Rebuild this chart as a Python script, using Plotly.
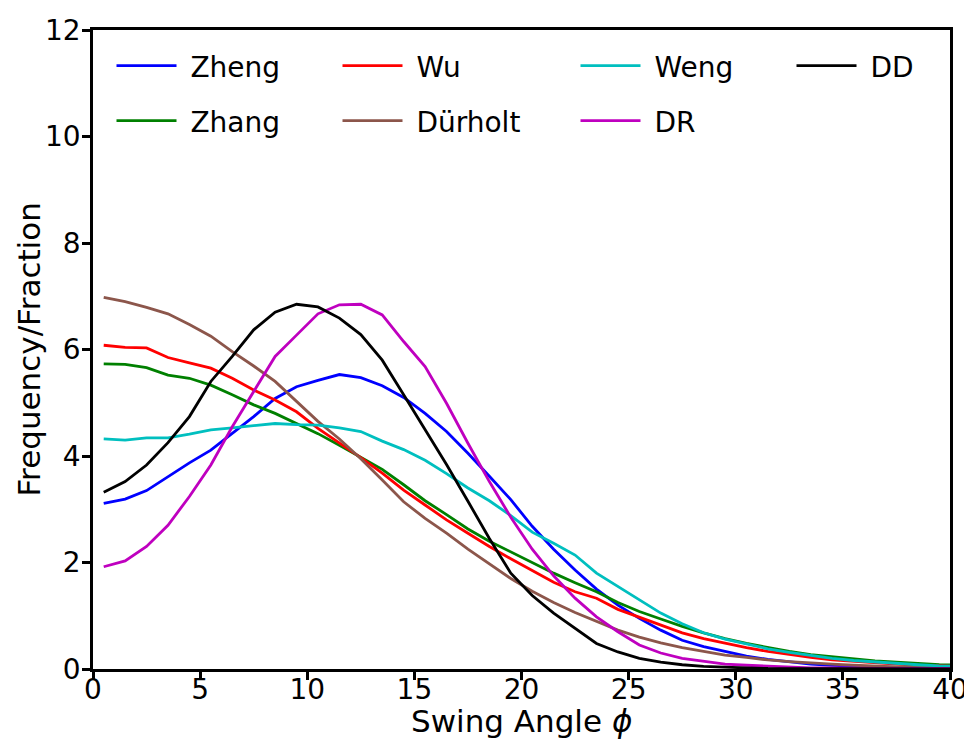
import plotly.graph_objects as go

angle = [i + 0.5 for i in range(41)]

zheng = [3.11, 3.19, 3.35, 3.61, 3.87, 4.11, 4.43, 4.74, 5.08, 5.30,
         5.42, 5.53, 5.47, 5.32, 5.10, 4.80, 4.46, 4.05, 3.62, 3.18,
         2.68, 2.25, 1.86, 1.50, 1.20, 0.95, 0.73, 0.54, 0.42, 0.33,
         0.24, 0.18, 0.13, 0.09, 0.07, 0.05, 0.04, 0.03, 0.02, 0.02, 0.01]
zhang = [5.73, 5.72, 5.66, 5.52, 5.46, 5.33, 5.15, 4.96, 4.80, 4.61,
         4.42, 4.20, 3.97, 3.75, 3.46, 3.16, 2.90, 2.63, 2.40, 2.20,
         2.00, 1.80, 1.62, 1.45, 1.25, 1.08, 0.94, 0.80, 0.68, 0.57,
         0.48, 0.40, 0.33, 0.27, 0.23, 0.19, 0.15, 0.13, 0.10, 0.08, 0.07]
wu = [6.08, 6.04, 6.03, 5.85, 5.75, 5.65, 5.46, 5.24, 5.05, 4.83,
      4.52, 4.25, 3.97, 3.68, 3.36, 3.08, 2.80, 2.55, 2.30, 2.07,
      1.85, 1.63, 1.45, 1.33, 1.12, 0.97, 0.82, 0.68, 0.57, 0.48,
      0.40, 0.33, 0.27, 0.22, 0.17, 0.14, 0.11, 0.09, 0.07, 0.06, 0.05]
durholt = [6.98, 6.90, 6.79, 6.67, 6.47, 6.25, 5.96, 5.69, 5.40, 5.03,
           4.65, 4.32, 3.95, 3.55, 3.14, 2.83, 2.55, 2.25, 1.97, 1.70,
           1.46, 1.25, 1.06, 0.89, 0.73, 0.60, 0.49, 0.40, 0.33, 0.26,
           0.22, 0.17, 0.14, 0.11, 0.09, 0.07, 0.05, 0.04, 0.03, 0.03, 0.02]
weng = [4.32, 4.30, 4.34, 4.34, 4.41, 4.49, 4.53, 4.57, 4.61, 4.59,
        4.58, 4.53, 4.46, 4.28, 4.12, 3.92, 3.67, 3.40, 3.16, 2.88,
        2.57, 2.36, 2.14, 1.80, 1.55, 1.30, 1.05, 0.85, 0.68, 0.56,
        0.47, 0.38, 0.31, 0.25, 0.20, 0.16, 0.13, 0.10, 0.08, 0.06, 0.05]
dr = [1.92, 2.03, 2.30, 2.70, 3.24, 3.83, 4.55, 5.21, 5.87, 6.27,
      6.67, 6.84, 6.85, 6.65, 6.15, 5.68, 4.99, 4.24, 3.52, 2.85,
      2.25, 1.75, 1.33, 0.98, 0.70, 0.45, 0.30, 0.20, 0.14, 0.09,
      0.07, 0.05, 0.03, 0.02, 0.02, 0.01, 0.01, 0.01, 0.01, 0.01, 0.01]
dd = [3.32, 3.52, 3.83, 4.25, 4.74, 5.40, 5.87, 6.37, 6.70, 6.85,
      6.80, 6.59, 6.28, 5.80, 5.15, 4.50, 3.84, 3.15, 2.45, 1.80,
      1.38, 1.05, 0.76, 0.48, 0.32, 0.20, 0.13, 0.08, 0.05, 0.03,
      0.02, 0.01, 0.01, 0.0, 0.0, 0.0, 0.0, 0.0, 0.0, 0.0, 0.0]

x_ticks = [0, 5, 10, 15, 20, 25, 30, 35, 40]
y_ticks = [0, 2, 4, 6, 8, 10, 12]

series = [
    ("Zheng", zheng, "#0000FF"),
    ("Zhang", zhang, "#008000"),
    ("Wu", wu, "#FF0000"),
    ("Dürholt", durholt, "#8C564B"),
    ("Weng", weng, "#00BFBF"),
    ("DR", dr, "#BF00BF"),
    ("DD", dd, "#000000"),
]

# page body has an 8px margin; size the figure so the plot area lands at
# screen (93..950, 30..669)
OFF = 8
W, H = 964, 734
L, R, T, B = 85, 22, 22, 73
pw, ph = W - L - R, H - T - B


def px_to_paper_x(sx):
    return (sx - OFF - L) / pw


def px_to_paper_y(sy):
    return (H - B - (sy - OFF)) / ph


# legend placement, column-major like matplotlib ncol=4
col_px = [111.5, 337.5, 575.5, 791.5]
row_px = [66, 121]
legend_pos = []
for i in range(len(series)):
    c, r = divmod(i, 2)
    legend_pos.append((px_to_paper_x(col_px[c]), px_to_paper_y(row_px[r])))

fig = go.Figure()
layout_legends = {}
for i, (name, vals, color) in enumerate(series):
    lg = "legend" if i == 0 else f"legend{i + 1}"
    fig.add_trace(go.Scatter(x=angle, y=vals, mode="lines", name="\u00a0" + name,
                             line=dict(color=color, width=2.8), legend=lg,
                             showlegend=True))
    lx, ly = legend_pos[i]
    layout_legends[lg] = dict(x=lx, y=ly, xanchor="left", yanchor="middle",
                              bgcolor="rgba(0,0,0,0)", borderwidth=0,
                              itemwidth=60, visible=True,
                              font=dict(family="DejaVu Sans", size=28, color="black"))

axis_common = dict(showline=True, linewidth=2.5, linecolor="black", mirror=True,
                   ticks="outside", ticklen=8, tickwidth=2.5, tickcolor="black",
                   showgrid=False, zeroline=False, automargin=False,
                   tickfont=dict(family="DejaVu Sans", size=28, color="black"))

title_font = dict(family="DejaVu Sans", size=31, color="black")

fig.update_layout(
    width=W, height=H,
    margin=dict(l=L, r=R, t=T, b=B),
    paper_bgcolor="white", plot_bgcolor="white",
    showlegend=True,
    xaxis=dict(range=[0, 40], tickvals=x_ticks, ticklabelstandoff=-14, **axis_common),
    yaxis=dict(range=[0, 12], tickvals=y_ticks, ticklabelstandoff=-4, **axis_common),
    annotations=[
        dict(text="Swing Angle <i>ϕ</i>", xref="paper", yref="paper",
             x=0.5, y=px_to_paper_y(721), xanchor="center", yanchor="middle",
             showarrow=False, font=title_font),
        dict(text="Frequency/Fraction", xref="paper", yref="paper",
             x=px_to_paper_x(28), y=0.5, xanchor="center", yanchor="middle",
             textangle=-90, showarrow=False, font=title_font),
    ],
    **layout_legends,
)

fig.write_html("out.html")
